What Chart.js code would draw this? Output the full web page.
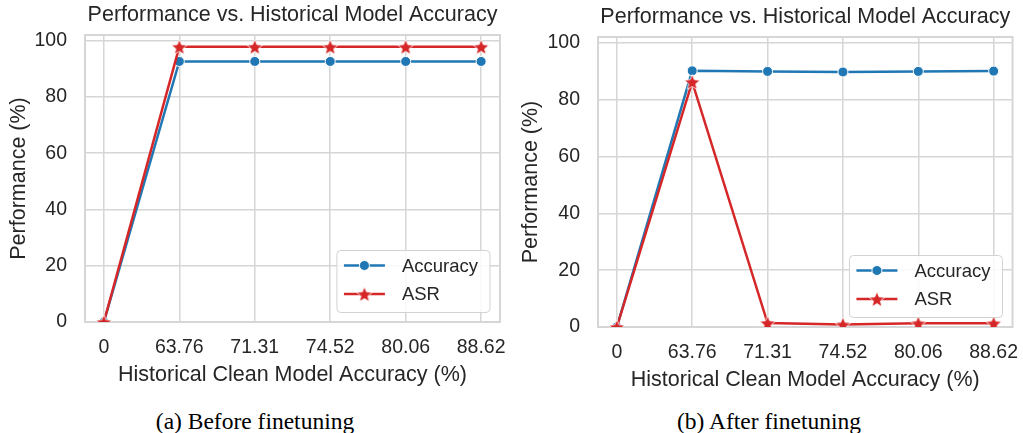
<!DOCTYPE html>
<html>
<head>
<meta charset="utf-8">
<script src="https://cdn.jsdelivr.net/npm/chart.js@4.4.1/dist/chart.umd.min.js"></script>
<style>
  html, body { margin: 0; padding: 0; background: #fff; }
  #page { position: relative; width: 1023px; height: 433px; overflow: hidden; }
  .panel { position: absolute; top: 0; height: 400px; }
  .caption { position: absolute; top: 410px; width: 400px; text-align: center;
    font-family: 'Liberation Serif', 'Times New Roman', serif; font-size: 23.5px;
    line-height: 1; color: #000; white-space: nowrap; }
</style>
</head>
<body>
<div id="page">
  <div class="panel" style="left:0;width:512px"><canvas id="chartA"></canvas></div>
  <div class="panel" style="left:512px;width:511px"><canvas id="chartB"></canvas></div>
  <div class="caption" style="left:55px">(a) Before finetuning</div>
  <div class="caption" style="left:569px">(b) After finetuning</div>
</div>
<script>
// data
const xLabels = ['0', '63.76', '71.31', '74.52', '80.06', '88.62'];
const yTicks = [0, 20, 40, 60, 80, 100];
const yMax = 102;
const accBefore = [0, 92.6, 92.6, 92.6, 92.6, 92.6];
const asrBefore = [0, 97.8, 97.8, 97.8, 97.8, 97.8];
const accAfter = [0, 90.1, 89.9, 89.7, 89.9, 90.0];
const asrAfter = [0, 86.2, 1.4, 0.9, 1.3, 1.3];

const BLUE = '#1f77b4';
const RED = '#d62728';
const GRID = '#d6d6d6';
const TEXT = '#262626';
const SANS = "'Liberation Sans', Arial, sans-serif";

Chart.defaults.font.family = SANS;
Chart.defaults.color = TEXT;

// filled star marker with a thin white edge
function makeStar(size) {
  const c = document.createElement('canvas');
  c.width = size; c.height = size;
  const ctx = c.getContext('2d');
  const r = size / 2 - 0.8, ri = r * 0.45, cx = size / 2, cy = size / 2 + 0.8;
  ctx.beginPath();
  for (let i = 0; i < 10; i++) {
    const rad = i % 2 ? ri : r;
    const ang = -Math.PI / 2 + i * Math.PI / 5;
    ctx.lineTo(cx + rad * Math.cos(ang), cy + rad * Math.sin(ang));
  }
  ctx.closePath();
  ctx.fillStyle = RED;
  ctx.fill();
  ctx.strokeStyle = '#fff';
  ctx.lineWidth = 0.8;
  ctx.stroke();
  return c;
}
const star = makeStar(18);

const framePlugin = {
  id: 'frame',
  beforeDatasetsDraw(chart) {
    const { ctx, chartArea: a } = chart;
    ctx.save();
    ctx.strokeStyle = GRID;
    ctx.lineWidth = 2;
    ctx.strokeRect(a.left, a.top, a.right - a.left, a.bottom - a.top);
    ctx.restore();
  }
};

const legendPlugin = {
  id: 'boxLegend',
  afterDatasetsDraw(chart, args, opts) {
    const { ctx, chartArea: a } = chart;
    const sets = chart.data.datasets;
    ctx.save();
    ctx.font = '18.5px ' + SANS;
    const textW = Math.max(...sets.map(d => ctx.measureText(d.label).width));
    const w = 65 + textW + 12, h = 62;
    const x = a.right - opts.right - w, y = a.bottom - opts.bottom - h;
    ctx.beginPath();
    ctx.roundRect(x, y, w, h, 4);
    ctx.fillStyle = 'rgba(255,255,255,0.85)';
    ctx.fill();
    ctx.strokeStyle = '#d2d2d2';
    ctx.lineWidth = 1;
    ctx.stroke();
    sets.forEach((d, i) => {
      const cy = y + 15 + i * 28.6;
      ctx.strokeStyle = d.borderColor;
      ctx.lineWidth = 2.5;
      ctx.beginPath();
      ctx.moveTo(x + 7, cy);
      ctx.lineTo(x + 48, cy);
      ctx.stroke();
      if (d.pointStyle === 'circle') {
        ctx.beginPath();
        ctx.arc(x + 27.5, cy, d.pointRadius, 0, Math.PI * 2);
        ctx.fillStyle = d.backgroundColor;
        ctx.fill();
        ctx.strokeStyle = '#fff';
        ctx.lineWidth = 1;
        ctx.stroke();
      } else {
        ctx.drawImage(d.pointStyle, x + 27.5 - star.width / 2, cy - star.height / 2);
      }
      ctx.fillStyle = TEXT;
      ctx.textBaseline = 'middle';
      ctx.textAlign = 'left';
      ctx.fillText(d.label, x + 65, cy + 1);
    });
    ctx.restore();
  }
};

function makeChart(id, acc, asr, frame) {
  const toPts = arr => arr.map((v, i) => ({ x: i, y: v }));
  const W = 512, H = 400, xH = 66;
  return new Chart(document.getElementById(id), {
    type: 'line',
    data: {
      datasets: [
        { label: 'Accuracy', data: toPts(acc), borderColor: BLUE, backgroundColor: BLUE,
          borderWidth: 2.5, pointStyle: 'circle', pointRadius: 5, pointBorderColor: '#fff',
          pointBorderWidth: 1, order: 1 },
        { label: 'ASR', data: toPts(asr), borderColor: RED, backgroundColor: RED,
          borderWidth: 2.5, pointStyle: star, pointRadius: 8, order: 0 }
      ]
    },
    options: {
      responsive: true,
      maintainAspectRatio: false,
      animation: false,
      layout: { padding: { left: 0, top: 0, right: W - frame.right, bottom: H - frame.bottom - xH } },
      plugins: {
        legend: { display: false },
        tooltip: { enabled: false },
        title: {
          display: true, fullSize: false,
          text: 'Performance vs. Historical Model Accuracy',
          font: { size: 21.5, weight: 'normal' }, color: TEXT,
          padding: { top: frame.top - 32.8, bottom: 7 }
        },
        boxLegend: { right: 10, bottom: 9.5 }
      },
      scales: {
        x: {
          type: 'linear', min: -0.25, max: xLabels.length - 0.75,
          afterBuildTicks: s => { s.ticks = xLabels.map((_, i) => ({ value: i })); },
          afterFit: s => { s.height = xH; s.paddingLeft = 0; s.paddingRight = 0; },
          ticks: { callback: v => xLabels[v], font: { size: 19.5 }, padding: 14, maxRotation: 0, autoSkip: false },
          grid: { color: GRID, lineWidth: 1.5, drawTicks: false },
          border: { display: false },
          title: { display: true, text: 'Historical Clean Model Accuracy (%)', font: { size: 21.5 }, padding: 0 }
        },
        y: {
          min: 0, max: yMax,
          afterBuildTicks: s => { s.ticks = yTicks.map(v => ({ value: v })); },
          afterFit: s => { s.width = frame.left; s.paddingTop = 0; s.paddingBottom = 0; },
          ticks: { font: { size: 19.5 }, padding: 18 },
          grid: { color: GRID, lineWidth: 1.5, drawTicks: false },
          border: { display: false },
          title: { display: true, text: 'Performance (%)', font: { size: 21.5 }, padding: { top: 6, bottom: 0 } }
        }
      }
    },
    plugins: [framePlugin, legendPlugin]
  });
}

makeChart('chartA', accBefore, asrBefore, { left: 85, top: 35, right: 500, bottom: 322 });
makeChart('chartB', accAfter, asrAfter, { left: 86, top: 37, right: 502, bottom: 327 });
</script>
</body>
</html>
